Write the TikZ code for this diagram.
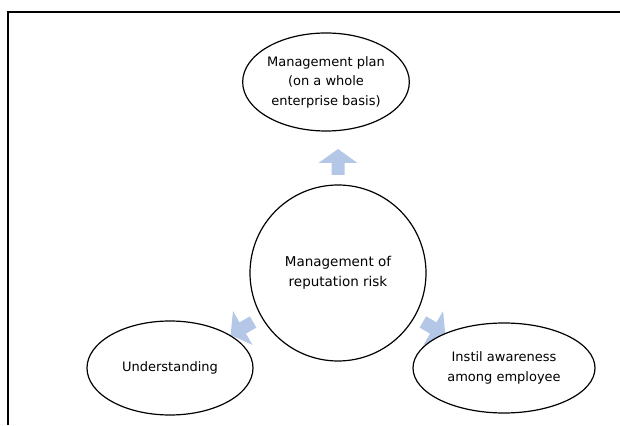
\documentclass[tikz,border=0pt]{standalone}
\usepackage{fontspec}
\setmainfont{DejaVu Sans}
\usetikzlibrary{shapes.geometric,backgrounds}
\definecolor{arrowblue}{RGB}{180,199,231}
\tikzset{
  bubble/.style={ellipse, draw, line width=1.2pt, fill=white, align=center,
    inner sep=0pt, font=\fontsize{13}{19.5}\selectfont},
  hubcircle/.style={circle, draw, line width=1.2pt, fill=white, align=center,
    inner sep=0pt, minimum size=176pt, font=\fontsize{13.5}{19.5}\selectfont},
  blockarrow/.style={fill=arrowblue}
}
\begin{document}
\begin{tikzpicture}[x=1pt,y=1pt]
        \useasboundingbox (0,0) rectangle (620,425);
        % Frame
        \draw[line width=1.5pt] (8,0) -- (8,413) -- (620,413);

        % Centre
        \node at (338,152) (hub) [hubcircle] {Management of\\reputation risk};

        % Outer ellipses
        \node at (326,343) (plan) [bubble, minimum width=162pt, minimum height=98pt] {Management plan\\(on a whole\\enterprise basis)};
        \node at (170,57) (understand) [bubble, minimum width=166pt, minimum height=94pt] {Understanding};
        \node at (504,57) (instil) [bubble, minimum width=182pt, minimum height=90pt] {Instil awareness\\among employee};

        % Arrows
        \begin{scope}[on background layer, shift={(hub.center)}]
          \foreach \a in {0,120,240}
            \fill[blockarrow, rotate=\a] (-6.5,98) -- (-6.5,110) -- (-19.5,110) -- (0,124)
              -- (19.5,110) -- (6.5,110) -- (6.5,98) -- cycle;
        \end{scope}
\end{tikzpicture}
\end{document}
